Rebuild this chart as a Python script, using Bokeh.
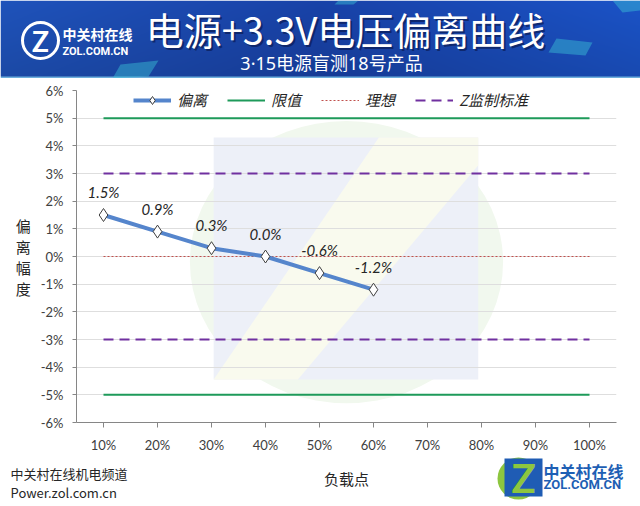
import numpy as np
from bokeh.plotting import figure
from bokeh.models import Range1d, FactorRange, FixedTicker, ColumnDataSource
from bokeh.layouts import column
from bokeh.core.properties import value
from bokeh.embed import file_html
from bokeh.resources import INLINE

# ---------------- data ----------------
LOAD_POINTS = ["10%", "20%", "30%", "40%", "50%", "60%", "70%", "80%", "90%", "100%"]
MEASURED_POINTS = ["10%", "20%", "30%", "40%", "50%", "60%"]
DEVIATION = [1.5, 0.9, 0.3, 0.0, -0.6, -1.2]
DEVIATION_LABELS = ["1.5%", "0.9%", "0.3%", "0.0%", "-0.6%", "-1.2%"]
LIMIT_UPPER = [5, 5, 5, 5, 5, 5, 5, 5, 5, 5]
LIMIT_LOWER = [-5, -5, -5, -5, -5, -5, -5, -5, -5, -5]
IDEAL = [0, 0, 0, 0, 0, 0, 0, 0, 0, 0]
Z_UPPER = [3, 3, 3, 3, 3, 3, 3, 3, 3, 3]
Z_LOWER = [-3, -3, -3, -3, -3, -3, -3, -3, -3, -3]
Y_TICKS = [-6, -5, -4, -3, -2, -1, 0, 1, 2, 3, 4, 5, 6]
Y_TICK_LABELS = ["-6%", "-5%", "-4%", "-3%", "-2%", "-1%", "0%", "1%", "2%", "3%", "4%", "5%", "6%"]

TITLE = "电源+3.3V电压偏离曲线"
SUBTITLE = "3·15电源盲测18号产品"
Y_LABEL = "偏\n离\n幅\n度"
X_LABEL = "负载点"

W = 640
CJK_NAME = "Noto Sans CJK SC"
NUM_NAME = "Lato"
CJK = value(CJK_NAME)
NUM = value(NUM_NAME)
MIXED = value("'Noto Sans', 'Noto Sans CJK SC'")


def blank_fig(h):
    f = figure(width=W, height=h, x_range=Range1d(0, W), y_range=Range1d(0, h),
               output_backend="svg", toolbar_location=None,
               x_axis_location=None, y_axis_location=None,
               min_border=0, min_border_left=0, min_border_right=0,
               min_border_top=0, min_border_bottom=0)
    f.frame_align = False
    f.grid.visible = False
    f.outline_line_color = None
    f.border_fill_color = "white"
    f.background_fill_color = "white"
    return f


# ---------------- header banner ----------------
HH = 78
hdr = blank_fig(HH)

xx = np.linspace(0, 1, W)[None, :]
yy = np.linspace(0, 1, HH)[:, None]
left = np.array([30, 80, 180])
mid = np.array([24, 64, 162])
right = np.array([26, 80, 192])
wl = np.clip(1 - 2 * xx, 0, 1)
wr = np.clip(2 * xx - 1, 0, 1)
wm = 1 - wl - wr
rgb = [(wl * left[i] + wm * mid[i] + wr * right[i]) * (0.92 + 0.12 * yy) for i in range(3)]
img = np.zeros((HH, W), dtype=np.uint32)
view = img.view(dtype=np.uint8).reshape((HH, W, 4))
for i in range(3):
    view[:, :, i] = np.clip(rgb[i], 0, 255).astype(np.uint8)
view[:, :, 3] = 255
view[0:2, :, 0] = 110
view[0:2, :, 1] = 175
view[0:2, :, 2] = 220
hdr.image_rgba(image=[img], x=0, y=0, dw=W, dh=HH)

# decorative streaks
hdr.patches(xs=[[612, 640, 640, 622], [556, 592, 585, 548], [120, 158, 148, 112], [338, 358, 353, 334]],
            ys=[[78, 78, 68, 66], [40, 36, 23, 26], [14, 18, 2, 0], [78, 78, 74, 74]],
            fill_color="#3cc3d6", fill_alpha=0.45, line_color=None)

# logo (top-left)
hdr.scatter(x=[40], y=[38], marker="circle", size=36, fill_color=None,
            line_color="white", line_width=3)
hdr.text(x=[40], y=[38], text=["Z"], text_color="white", text_font=NUM,
         text_font_style="bold", text_font_size="28px", text_align="center",
         text_baseline="middle")
hdr.text(x=[62], y=[45], text=["中关村在线"], text_color="white", text_font=CJK,
         text_font_style="bold", text_font_size="14px", text_align="left",
         text_baseline="middle")
hdr.text(x=[62], y=[27], text=["ZOL.COM.CN"], text_color="white", text_font=value("Roboto"),
         text_font_style="bold", text_font_size="11px", text_align="left",
         text_baseline="middle")

# title with shadow
hdr.text(x=[347], y=[48], text=[TITLE], text_color="#0a1c55", text_alpha=0.7, text_font=CJK,
         text_font_size="38px", text_align="center", text_baseline="middle")
hdr.text(x=[345], y=[50], text=[TITLE], text_color="white", text_font=CJK,
         text_font_size="38px", text_align="center", text_baseline="middle")
hdr.text(x=[331], y=[16], text=[SUBTITLE], text_color="white", text_font=MIXED,
         text_font_size="18px", text_align="center", text_baseline="middle")

# ---------------- main chart ----------------
p = figure(width=W, height=377, x_range=FactorRange(factors=LOAD_POINTS),
           y_range=Range1d(-6, 6), output_backend="svg", toolbar_location=None,
           min_border_left=76, min_border_right=24, min_border_top=12, min_border_bottom=30)
p.frame_align = False
p.outline_line_color = None
p.background_fill_color = "white"
p.border_fill_color = "white"

# faint watermark (decoration)
wm1 = p.ellipse(x=5.0, y=-0.2, width=5.8, height=10.2, fill_color="#f1f8ee", line_color=None)
wm2 = p.quad(left=2.54, right=7.44, top=4.3, bottom=-4.45, fill_color="#edf0f8", line_color=None)
wm3 = p.patch(x=[2.54, 4.1, 7.44, 7.44, 5.6], y=[-4.45, -4.45, 3.3, 4.3, 4.3],
              fill_color="#f9faee", line_color=None)
for r in (wm1, wm2, wm3):
    r.level = "image"

p.line(x=LOAD_POINTS, y=LIMIT_UPPER, line_color="#1e9a5a", line_width=2, legend_label="限值")
p.line(x=LOAD_POINTS, y=LIMIT_LOWER, line_color="#1e9a5a", line_width=2)
p.line(x=LOAD_POINTS, y=IDEAL, line_color="#c0504d", line_width=1, line_dash="2 2",
       legend_label="理想")
p.line(x=LOAD_POINTS, y=Z_UPPER, line_color="#7030a0", line_width=2, line_dash="10 6",
       legend_label="Z监制标准")
p.line(x=LOAD_POINTS, y=Z_LOWER, line_color="#7030a0", line_width=2, line_dash="10 6")

src = ColumnDataSource(data=dict(x=MEASURED_POINTS, y=DEVIATION, lab=DEVIATION_LABELS))
p.line(x="x", y="y", source=src, line_color="#5585cc", line_width=4, legend_label="偏离")
p.scatter(x="x", y="y", source=src, marker="diamond", size=13, fill_color="white",
          line_color="#404040", line_width=1, legend_label="偏离")
p.text(x="x", y="y", text="lab", source=src, y_offset=-23, text_align="center",
       text_baseline="middle", text_font=NUM, text_font_style="italic",
       text_font_size="15px", text_color="#262626")

# axes
p.yaxis.ticker = FixedTicker(ticks=Y_TICKS)
p.yaxis.major_label_overrides = dict(zip(Y_TICKS, Y_TICK_LABELS))
p.ygrid.ticker = FixedTicker(ticks=Y_TICKS)
p.ygrid.grid_line_color = "#dedede"
p.xgrid.visible = False
for ax in (p.xaxis[0], p.yaxis[0]):
    ax.axis_line_color = "#868686"
    ax.major_tick_line_color = "#868686"
    ax.minor_tick_line_color = None
    ax.major_tick_in = 0
    ax.major_label_text_font = NUM_NAME
    ax.major_label_text_font_size = "13px"
    ax.major_label_text_color = "#404040"
p.yaxis.major_tick_out = 4
p.yaxis.major_label_standoff = 9
p.xaxis.major_tick_out = 5
p.xaxis.major_label_standoff = 9

p.yaxis.axis_label = Y_LABEL
p.yaxis.axis_label_orientation = "horizontal"
p.yaxis.axis_label_text_font = CJK_NAME
p.yaxis.axis_label_text_font_style = "normal"
p.yaxis.axis_label_text_font_size = "15px"
p.yaxis.axis_label_text_color = "#262626"
p.yaxis.axis_label_text_line_height = 1.0
p.yaxis.axis_label_standoff = 7

# legend
lg = p.legend[0]
lg.location = (57, 312)
lg.orientation = "horizontal"
lg.border_line_color = None
lg.background_fill_alpha = 0
lg.label_text_font = CJK_NAME
lg.label_text_font_style = "italic"
lg.label_text_font_size = "15px"
lg.label_text_color = "#262626"
lg.glyph_width = 38
lg.spacing = 20
lg.padding = 0
lg.margin = 0
lg.label_standoff = 6
lg.items = [lg.items[i] for i in (3, 0, 1, 2)]

# ---------------- footer ----------------
FH = 51
ftr = blank_fig(FH)

ftr.text(x=[10], y=[33], text=["中关村在线机电频道"], text_font=CJK, text_font_size="13px",
         text_color="#262626", text_align="left", text_baseline="middle")
ftr.text(x=[10], y=[14], text=["Power.zol.com.cn"], text_font=CJK, text_font_size="13px",
         text_color="#262626", text_align="left", text_baseline="middle")
ftr.text(x=[346], y=[28], text=[X_LABEL], text_font=CJK, text_font_size="15px",
         text_color="#262626", text_align="center", text_baseline="middle")

ftr.scatter(x=[518], y=[28], marker="circle", size=42, fill_color="#8dc63f", line_color=None)
ftr.quad(left=[504], right=[542], top=[48], bottom=[10], fill_color="#1f5cb4", line_color=None)
ftr.text(x=[523], y=[29], text=["Z"], text_font=NUM, text_font_style="bold",
         text_font_size="40px", text_color="#8dc63f", text_align="center", text_baseline="middle")
ftr.text(x=[543], y=[36], text=["中关村在线"], text_font=CJK, text_font_style="bold",
         text_font_size="16px", text_color="#1e5fb4", text_align="left", text_baseline="middle")
ftr.text(x=[543], y=[22], text=["ZOL.COM.CN"], text_font=value("Roboto"), text_font_style="bold",
         text_font_size="13px", text_color="#1e5fb4", text_align="left", text_baseline="middle")

layout = column(hdr, p, ftr, spacing=0)
open("out.html", "w").write(file_html(layout, INLINE))
